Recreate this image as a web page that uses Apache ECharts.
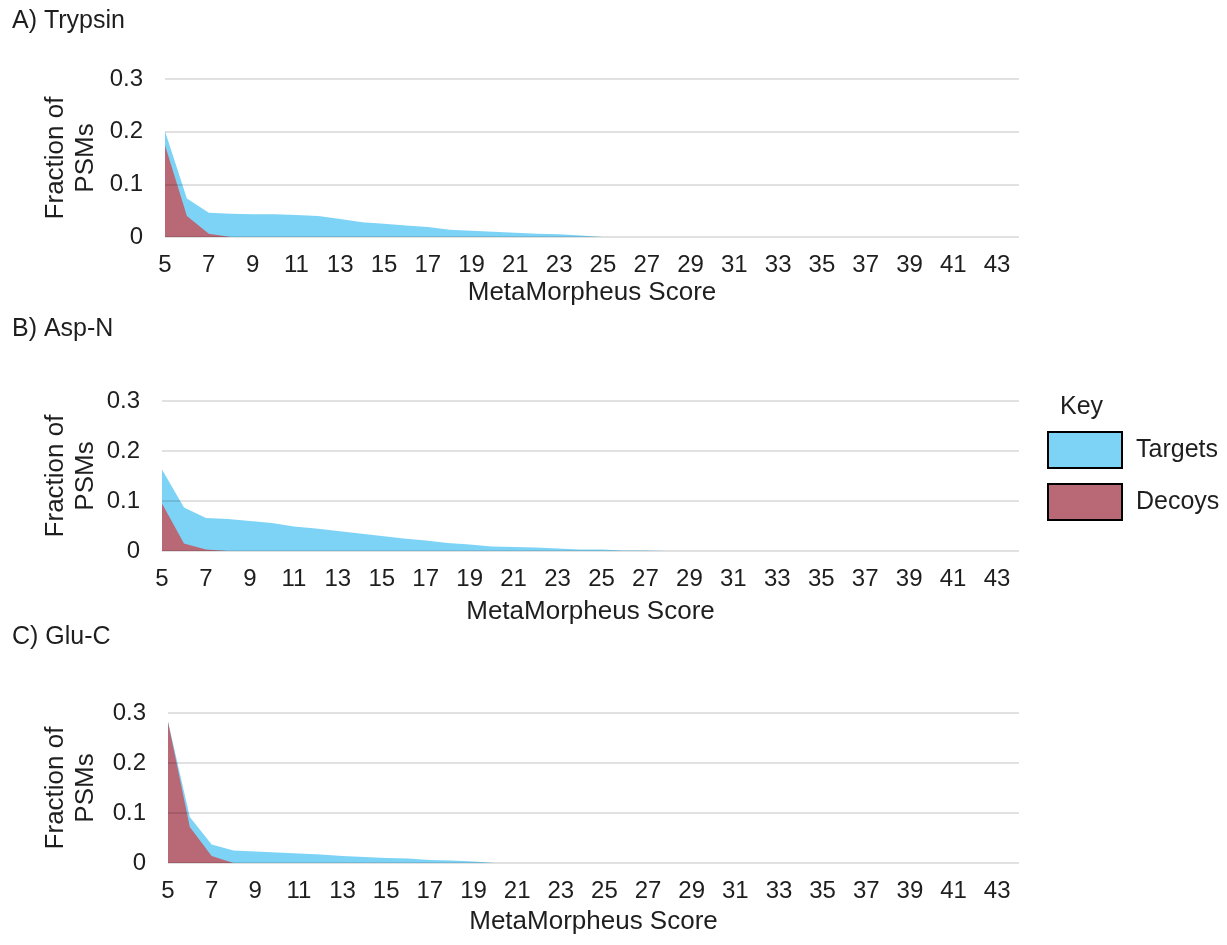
<!DOCTYPE html>
<html>
<head>
<meta charset="utf-8">
<script src="https://cdn.jsdelivr.net/npm/echarts@6/dist/echarts.min.js"></script>
<style>html,body{margin:0;padding:0;background:#fff;}#c{width:1227px;height:945px;}</style>
</head>
<body>
<div id="c"></div>
<script>
// Scores 5..44
const scores = [];
for (let s = 5; s <= 44; s++) scores.push(String(s));

const panelTitles = ['A) Trypsin', 'B) Asp-N', 'C) Glu-C'];
const seriesNames = ['Targets', 'Decoys'];

// Panel A: Trypsin
const trypsinTargets = [0.201,0.073,0.046,0.044,0.043,0.043,0.042,0.040,0.034,0.028,0.025,0.022,0.019,0.014,0.012,0.010,0.008,0.006,0.005,0.003,0,0,0,0,0,0,0,0,0,0,0,0,0,0,0,0,0,0,0,0];
const trypsinDecoys  = [0.174,0.040,0.006,0,0,0,0,0,0,0,0,0,0,0,0,0,0,0,0,0,0,0,0,0,0,0,0,0,0,0,0,0,0,0,0,0,0,0,0,0];
// Panel B: Asp-N
const aspnTargets = [0.163,0.087,0.066,0.064,0.060,0.056,0.049,0.045,0.040,0.035,0.030,0.025,0.021,0.016,0.013,0.009,0.008,0.007,0.005,0.003,0.003,0.001,0.001,0,0,0,0,0,0,0,0,0,0,0,0,0,0,0,0,0];
const aspnDecoys  = [0.095,0.015,0.003,0,0,0,0,0,0,0,0,0,0,0,0,0,0,0,0,0,0,0,0,0,0,0,0,0,0,0,0,0,0,0,0,0,0,0,0,0];
// Panel C: Glu-C
const glucTargets = [0.283,0.092,0.037,0.025,0.023,0.021,0.019,0.017,0.014,0.012,0.010,0.009,0.006,0.005,0.003,0,0,0,0,0,0,0,0,0,0,0,0,0,0,0,0,0,0,0,0,0,0,0,0,0];
const glucDecoys  = [0.282,0.072,0.014,0,0,0,0,0,0,0,0,0,0,0,0,0,0,0,0,0,0,0,0,0,0,0,0,0,0,0,0,0,0,0,0,0,0,0,0,0];

const yTicks = { min: 0, max: 0.3, interval: 0.1 };
const xTitle = 'MetaMorpheus Score';
const yTitle = 'Fraction of\nPSMs';
const keyTitle = 'Key';

const panelData = [[trypsinTargets, trypsinDecoys],[aspnTargets, aspnDecoys],[glucTargets, glucDecoys]];

const FONT = 'Liberation Sans, Arial, sans-serif';
const TXT = '#1e1e1e';
const BLUE = '#7dd3f5';
const RED = '#b96876';

const grids = [
  { left: 165, width: 854, top: 79, height: 158 },
  { left: 162, width: 857, top: 401, height: 150 },
  { left: 168, width: 851, top: 713, height: 150 }
];
const titleTops = [9, 317, 625];
const xNameGaps = [43, 48, 46];

const option = {
  backgroundColor: '#fff',
  animation: false,
  title: panelTitles.map((t, i) => ({
    text: t, left: 12, top: titleTops[i], padding: 0,
    textStyle: { fontFamily: FONT, fontSize: 25, fontWeight: 'normal', color: TXT }
  })),
  grid: grids,
  xAxis: grids.map((g, i) => ({
    type: 'category', gridIndex: i, data: scores, boundaryGap: false,
    axisLine: { show: false }, axisTick: { show: false },
    axisLabel: { interval: 1, fontFamily: FONT, fontSize: 24, color: TXT, margin: 16 },
    name: xTitle, nameLocation: 'middle', nameGap: xNameGaps[i],
    nameTextStyle: { fontFamily: FONT, fontSize: 26, color: TXT }
  })),
  yAxis: grids.map((g, i) => ({
    type: 'value', gridIndex: i, min: yTicks.min, max: yTicks.max, interval: yTicks.interval,
    z: 10,
    axisLine: { show: false }, axisTick: { show: false },
    axisLabel: { fontFamily: FONT, fontSize: 24, color: TXT, margin: 22 },
    splitLine: { lineStyle: { color: 'rgba(0,0,0,0.16)', width: 1.5 } }
  })),
  legend: {
    orient: 'vertical', left: 1047, top: 431, padding: 0,
    itemWidth: 74, itemHeight: 36, itemGap: 14,
    icon: 'rect',
    data: seriesNames,
    textStyle: { fontFamily: FONT, fontSize: 25, color: TXT, padding: [0, 0, 0, 9] },
    selectedMode: false
  },
  graphic: [
    { type: 'text', left: 1060, top: 395, style: { text: keyTitle, fontFamily: FONT, fontSize: 25, fill: TXT } }
  ].concat(grids.map(g => ({
    type: 'text', x: 71, y: g.top + g.height / 2, rotation: Math.PI / 2,
    style: { text: yTitle, fontFamily: FONT, fontSize: 26, fill: TXT, align: 'center', verticalAlign: 'middle', lineHeight: 30 }
  }))),
  series: []
};

panelData.forEach((pair, i) => {
  pair.forEach((vals, j) => {
    option.series.push({
      name: seriesNames[j], type: 'line', xAxisIndex: i, yAxisIndex: i,
      data: vals, symbol: 'none', lineStyle: { width: 0 },
      itemStyle: { color: j === 0 ? BLUE : RED, borderColor: '#000', borderWidth: 2 },
      areaStyle: { color: j === 0 ? BLUE : RED, opacity: 1 },
      z: 2 + j
    });
  });
});

const chart = echarts.init(document.getElementById('c'), null, { renderer: 'canvas' });
chart.setOption(option);
</script>
</body>
</html>
